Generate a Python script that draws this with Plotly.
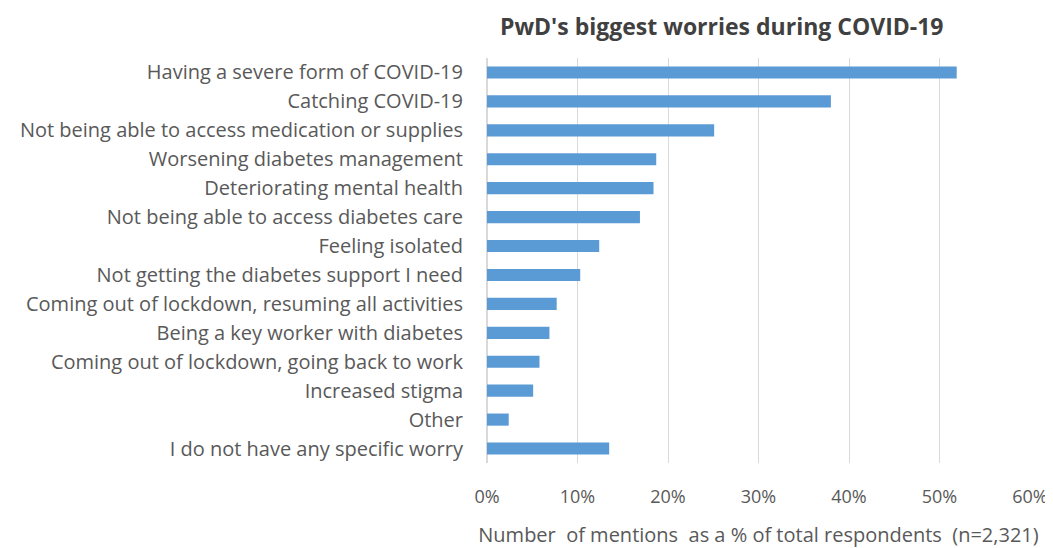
import plotly.graph_objects as go

categories = [
    "Having a severe form of COVID-19",
    "Catching COVID-19",
    "Not being able to access medication or supplies",
    "Worsening diabetes management",
    "Deteriorating mental health",
    "Not being able to access diabetes care",
    "Feeling isolated",
    "Not getting the diabetes support I need",
    "Coming out of lockdown, resuming all activities",
    "Being a key worker with diabetes",
    "Coming out of lockdown, going back to work",
    "Increased stigma",
    "Other",
    "I do not have any specific worry",
]
share = [0.519, 0.380, 0.251, 0.187, 0.184, 0.169, 0.124, 0.103,
         0.077, 0.069, 0.058, 0.051, 0.024, 0.135]

FONT = "'Open Sans', sans-serif"
TEXT_GREY = "#595959"

fig = go.Figure(
    go.Bar(
        x=share,
        y=categories,
        orientation="h",
        marker={"color": "#5b9bd5", "line": {"width": 0}},
        width=0.42,
    )
)

# page body adds an 8px offset, so the figure is a bit smaller than the window
fig.update_layout(
    width=1045,
    height=540,
    margin={"l": 479, "r": 23, "t": 50, "b": 85},
    paper_bgcolor="white",
    plot_bgcolor="white",
    showlegend=False,
    font={"family": FONT, "color": TEXT_GREY, "size": 20},
    title={
        "text": "<b>PwD's biggest worries during COVID-19</b>",
        "x": 0.683,
        "xanchor": "center",
        "y": 0.965,
        "yanchor": "middle",
        "font": {"size": 23, "color": "#404040"},
    },
)

fig.update_xaxes(
    range=[0, 0.6],
    tickformat=".0%",
    dtick=0.1,
    tickfont={"size": 18},
    showgrid=True,
    gridcolor="#d9d9d9",
    gridwidth=1,
    zeroline=True,
    zerolinecolor="#d9d9d9",
    showline=False,
    ticks="",
    automargin=False,
    ticklabelstandoff=21,
    title={"text": "Number  of mentions  as a % of total respondents  (n=2,321)",
           "standoff": 21, "font": {"size": 20}},
)

fig.update_yaxes(
    autorange="reversed",
    showgrid=False,
    ticks="",
    automargin=False,
    ticklabelstandoff=23,
)

fig.write_html("out.html")
